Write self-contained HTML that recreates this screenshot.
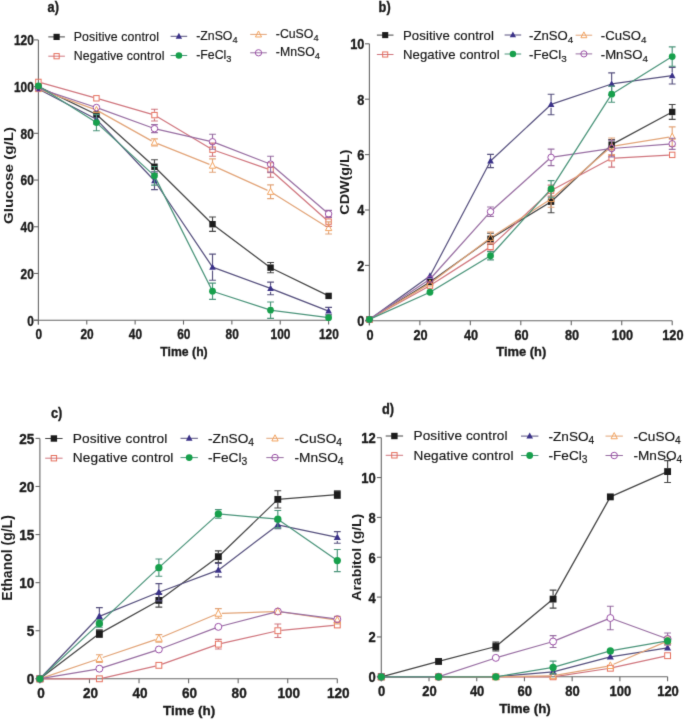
<!DOCTYPE html><html><head><meta charset="utf-8"><style>html,body{margin:0;padding:0;background:#fff;}svg{display:block;will-change:transform;}text{font-family:"Liberation Sans",sans-serif;}</style></head><body>
<svg width="685" height="720" viewBox="0 0 685 720">
<defs><filter id="bl" x="0" y="0" width="685" height="720" filterUnits="userSpaceOnUse" color-interpolation-filters="sRGB"><feConvolveMatrix order="3" kernelMatrix="0.01134 0.08382 0.01134 0.08382 0.61935 0.08382 0.01134 0.08382 0.01134" divisor="1" edgeMode="duplicate" preserveAlpha="true"/></filter></defs>
<g filter="url(#bl)">
<rect width="685" height="720" fill="#fff"/>
<g stroke="#666666" stroke-width="1.1" fill="none">
<path d="M38.4 324.6V39.9"/>
<path d="M34 320.2H328.6"/>
<path d="M34 320.2H38.4"/>
<path d="M34 273.48H38.4"/>
<path d="M34 226.77H38.4"/>
<path d="M34 180.05H38.4"/>
<path d="M34 133.33H38.4"/>
<path d="M34 86.62H38.4"/>
<path d="M34 39.9H38.4"/>
<path d="M38.4 320.2V324.6"/>
<path d="M86.77 320.2V324.6"/>
<path d="M135.13 320.2V324.6"/>
<path d="M183.5 320.2V324.6"/>
<path d="M231.87 320.2V324.6"/>
<path d="M280.23 320.2V324.6"/>
<path d="M328.6 320.2V324.6"/>
</g>
<text transform="translate(33.8,325.6) scale(0.85,1)" font-size="14" font-weight="bold" text-anchor="end" fill="#1a1a1a" stroke="#1a1a1a" stroke-width="0.35">0</text>
<text transform="translate(33.8,278.88) scale(0.85,1)" font-size="14" font-weight="bold" text-anchor="end" fill="#1a1a1a" stroke="#1a1a1a" stroke-width="0.35">20</text>
<text transform="translate(33.8,232.17) scale(0.85,1)" font-size="14" font-weight="bold" text-anchor="end" fill="#1a1a1a" stroke="#1a1a1a" stroke-width="0.35">40</text>
<text transform="translate(33.8,185.45) scale(0.85,1)" font-size="14" font-weight="bold" text-anchor="end" fill="#1a1a1a" stroke="#1a1a1a" stroke-width="0.35">60</text>
<text transform="translate(33.8,138.73) scale(0.85,1)" font-size="14" font-weight="bold" text-anchor="end" fill="#1a1a1a" stroke="#1a1a1a" stroke-width="0.35">80</text>
<text transform="translate(33.8,92.02) scale(0.85,1)" font-size="14" font-weight="bold" text-anchor="end" fill="#1a1a1a" stroke="#1a1a1a" stroke-width="0.35">100</text>
<text transform="translate(33.8,45.3) scale(0.85,1)" font-size="14" font-weight="bold" text-anchor="end" fill="#1a1a1a" stroke="#1a1a1a" stroke-width="0.35">120</text>
<text transform="translate(38.7,339.1) scale(0.85,1)" font-size="14" font-weight="bold" text-anchor="middle" fill="#1a1a1a" stroke="#1a1a1a" stroke-width="0.35">0</text>
<text transform="translate(87.07,339.1) scale(0.85,1)" font-size="14" font-weight="bold" text-anchor="middle" fill="#1a1a1a" stroke="#1a1a1a" stroke-width="0.35">20</text>
<text transform="translate(135.43,339.1) scale(0.85,1)" font-size="14" font-weight="bold" text-anchor="middle" fill="#1a1a1a" stroke="#1a1a1a" stroke-width="0.35">40</text>
<text transform="translate(183.8,339.1) scale(0.85,1)" font-size="14" font-weight="bold" text-anchor="middle" fill="#1a1a1a" stroke="#1a1a1a" stroke-width="0.35">60</text>
<text transform="translate(232.17,339.1) scale(0.85,1)" font-size="14" font-weight="bold" text-anchor="middle" fill="#1a1a1a" stroke="#1a1a1a" stroke-width="0.35">80</text>
<text transform="translate(280.53,339.1) scale(0.85,1)" font-size="14" font-weight="bold" text-anchor="middle" fill="#1a1a1a" stroke="#1a1a1a" stroke-width="0.35">100</text>
<text transform="translate(328.9,339.1) scale(0.85,1)" font-size="14" font-weight="bold" text-anchor="middle" fill="#1a1a1a" stroke="#1a1a1a" stroke-width="0.35">120</text>
<text transform="translate(184,356.4) scale(0.9,1)" font-size="13.6" font-weight="bold" text-anchor="middle" fill="#1a1a1a" stroke="#1a1a1a" stroke-width="0.35">Time (h)</text>
<text transform="translate(12.8,175.5) scale(0.89,1) rotate(-90)" font-size="15.2" font-weight="bold" text-anchor="middle" fill="#1a1a1a">Glucose (g/L)</text>
<text transform="translate(47.6,12.3) scale(0.9,1)" font-size="14.2" font-weight="bold" text-anchor="start" fill="#1a1a1a" stroke="#1a1a1a" stroke-width="0.35">a)</text>
<path d="M48.3 36.9H64.9" stroke="#444444" stroke-width="1"/>
<rect x="53.5" y="33.8" width="6.21" height="6.21" fill="#1c1c1c"/>
<text transform="translate(73.8,40.6) scale(1,1)" font-size="12.3" font-weight="normal" text-anchor="start" fill="#151515" letter-spacing="0.12" stroke="#151515" stroke-width="0.17">Positive control</text>
<path d="M48.3 56.2H64.9" stroke="#d0767e" stroke-width="1"/>
<rect x="54" y="53.6" width="5.21" height="5.21" fill="none" stroke="#e5705e" stroke-width="1"/>
<text transform="translate(73.8,59.7) scale(1,1)" font-size="12.3" font-weight="normal" text-anchor="start" fill="#151515" letter-spacing="0.12" stroke="#151515" stroke-width="0.17">Negative control</text>
<path d="M170.6 36.3H187.2" stroke="#56507e" stroke-width="1"/>
<polygon points="178.9,32.69 175.7,38.71 182.1,38.71" fill="#3a3188"/>
<text transform="translate(196.2,39.5) scale(1,1)" font-size="12.3" font-weight="normal" text-anchor="start" fill="#151515" stroke="#151515" stroke-width="0.17">-ZnSO<tspan font-size="9.23" dy="3.08">4</tspan></text>
<path d="M170.6 55.5H187.2" stroke="#4a947a" stroke-width="1"/>
<circle cx="178.9" cy="55.5" r="3.3" fill="#17a04c"/>
<text transform="translate(196.2,58.5) scale(1,1)" font-size="12.3" font-weight="normal" text-anchor="start" fill="#151515" stroke="#151515" stroke-width="0.17">-FeCl<tspan font-size="9.23" dy="3.08">3</tspan></text>
<path d="M250.2 34.4H266.8" stroke="#e2a478" stroke-width="1"/>
<polygon points="258.5,30.98 255.44,36.98 261.56,36.98" fill="none" stroke="#f2a25e" stroke-width="1"/>
<text transform="translate(275.8,37.9) scale(1,1)" font-size="12.3" font-weight="normal" text-anchor="start" fill="#151515" stroke="#151515" stroke-width="0.17">-CuSO<tspan font-size="9.23" dy="3.08">4</tspan></text>
<path d="M250.2 52.8H266.8" stroke="#986ea2" stroke-width="1"/>
<circle cx="258.5" cy="52.8" r="3.15" fill="none" stroke="#9a4fa6" stroke-width="1"/>
<text transform="translate(275.8,55.8) scale(1,1)" font-size="12.3" font-weight="normal" text-anchor="start" fill="#151515" stroke="#151515" stroke-width="0.17">-MnSO<tspan font-size="9.23" dy="3.08">4</tspan></text>
<path d="M38.4 86.62L96.44 114.53M96.44 114.53L154.48 166.74M154.48 166.74L212.52 224.2M212.52 224.2L270.56 267.64M270.56 267.64L328.6 295.91" stroke="#444444" stroke-width="1.25" fill="none"/><rect x="35.2" y="83.42" width="6.4" height="6.4" fill="#1c1c1c"/><rect x="93.24" y="111.33" width="6.4" height="6.4" fill="#1c1c1c"/><path d="M154.48 159.73V163.44M154.48 170.04V173.74M151.08 159.73H157.88M151.08 173.74H157.88" stroke="#444444" stroke-width="1.15" fill="none"/><rect x="151.28" y="163.54" width="6.4" height="6.4" fill="#1c1c1c"/><path d="M212.52 216.96V220.9M212.52 227.5V231.44M209.12 216.96H215.92M209.12 231.44H215.92" stroke="#444444" stroke-width="1.15" fill="none"/><rect x="209.32" y="221" width="6.4" height="6.4" fill="#1c1c1c"/><path d="M270.56 262.5V264.34M270.56 270.94V272.78M267.16 262.5H273.96M267.16 272.78H273.96" stroke="#444444" stroke-width="1.15" fill="none"/><rect x="267.36" y="264.44" width="6.4" height="6.4" fill="#1c1c1c"/><rect x="325.4" y="292.71" width="6.4" height="6.4" fill="#1c1c1c"/>
<path d="M41.58 82.84L93.26 97.4M99.61 99.21L151.31 114.2M157.32 116.8L209.68 148M215.63 150.77L267.45 168.92M273.03 172.2L326.13 219.43" stroke="#d0767e" stroke-width="1.25" fill="none"/><rect x="35.7" y="79.24" width="5.4" height="5.4" fill="none" stroke="#e5705e" stroke-width="1"/><rect x="93.74" y="95.6" width="5.4" height="5.4" fill="none" stroke="#e5705e" stroke-width="1"/><path d="M154.48 109.27V111.81M154.48 118.41V120.95M151.08 109.27H157.88M151.08 120.95H157.88" stroke="#d0767e" stroke-width="1.15" fill="none"/><rect x="151.78" y="112.41" width="5.4" height="5.4" fill="none" stroke="#e5705e" stroke-width="1"/><path d="M212.52 143.14V146.38M212.52 152.98V156.22M209.12 143.14H215.92M209.12 156.22H215.92" stroke="#d0767e" stroke-width="1.15" fill="none"/><rect x="209.82" y="146.98" width="5.4" height="5.4" fill="none" stroke="#e5705e" stroke-width="1"/><path d="M270.56 162.76V166.71M270.56 173.31V177.25M267.16 162.76H273.96M267.16 177.25H273.96" stroke="#d0767e" stroke-width="1.15" fill="none"/><rect x="267.86" y="167.31" width="5.4" height="5.4" fill="none" stroke="#e5705e" stroke-width="1"/><path d="M328.6 216.96V218.33M328.6 224.93V226.3M325.2 216.96H332M325.2 226.3H332" stroke="#d0767e" stroke-width="1.15" fill="none"/><rect x="325.9" y="218.93" width="5.4" height="5.4" fill="none" stroke="#e5705e" stroke-width="1"/>
<path d="M38.4 88.95L96.44 119.32M96.44 119.32L154.48 180.75M154.48 180.75L212.52 267.18M212.52 267.18L270.56 288.43M270.56 288.43L328.6 311.09" stroke="#56507e" stroke-width="1.25" fill="none"/><polygon points="38.4,85.23 35.1,91.43 41.7,91.43" fill="#3a3188"/><path d="M96.44 114.65V116.02M96.44 122.62V123.99M93.04 114.65H99.84M93.04 123.99H99.84" stroke="#56507e" stroke-width="1.15" fill="none"/><polygon points="96.44,115.6 93.14,121.8 99.74,121.8" fill="#3a3188"/><path d="M154.48 171.87V177.45M154.48 184.05V189.63M151.08 171.87H157.88M151.08 189.63H157.88" stroke="#56507e" stroke-width="1.15" fill="none"/><polygon points="154.48,177.03 151.18,183.23 157.78,183.23" fill="#3a3188"/><path d="M212.52 254.1V263.88M212.52 270.48V280.26M209.12 254.1H215.92M209.12 280.26H215.92" stroke="#56507e" stroke-width="1.15" fill="none"/><polygon points="212.52,263.46 209.22,269.66 215.82,269.66" fill="#3a3188"/><path d="M270.56 282.13V285.13M270.56 291.73V294.74M267.16 282.13H273.96M267.16 294.74H273.96" stroke="#56507e" stroke-width="1.15" fill="none"/><polygon points="270.56,284.71 267.26,290.91 273.86,290.91" fill="#3a3188"/><path d="M328.6 307.35V307.79M328.6 314.39V314.83M325.2 307.35H332M325.2 314.83H332" stroke="#56507e" stroke-width="1.15" fill="none"/><polygon points="328.6,307.37 325.3,313.57 331.9,313.57" fill="#3a3188"/>
<path d="M41.5 90.08L93.34 108.85M99.32 111.59L151.6 140.83M157.55 143.66L209.45 164.35M215.53 166.92L267.55 190.37M273.36 193.48L325.8 226.19" stroke="#e2a478" stroke-width="1.25" fill="none"/><polygon points="38.4,85.42 35.23,91.62 41.56,91.62" fill="none" stroke="#f2a25e" stroke-width="1"/><polygon points="96.44,106.44 93.28,112.64 99.61,112.64" fill="none" stroke="#f2a25e" stroke-width="1"/><path d="M154.48 138.94V139.14M154.48 145.74V145.95M151.08 138.94H157.88M151.08 145.95H157.88" stroke="#e2a478" stroke-width="1.15" fill="none"/><polygon points="154.48,138.91 151.32,145.11 157.65,145.11" fill="none" stroke="#f2a25e" stroke-width="1"/><path d="M212.52 158.91V162.27M212.52 168.87V172.22M209.12 158.91H215.92M209.12 172.22H215.92" stroke="#e2a478" stroke-width="1.15" fill="none"/><polygon points="212.52,162.04 209.36,168.23 215.69,168.23" fill="none" stroke="#f2a25e" stroke-width="1"/><path d="M270.56 184.84V188.43M270.56 195.03V198.62M267.16 184.84H273.96M267.16 198.62H273.96" stroke="#e2a478" stroke-width="1.15" fill="none"/><polygon points="270.56,188.2 267.4,194.39 273.73,194.39" fill="none" stroke="#f2a25e" stroke-width="1"/><path d="M328.6 221.86V224.63M328.6 231.23V234.01M325.2 221.86H332M325.2 234.01H332" stroke="#e2a478" stroke-width="1.15" fill="none"/><polygon points="328.6,224.4 325.44,230.6 331.77,230.6" fill="none" stroke="#f2a25e" stroke-width="1"/>
<path d="M41.53 89.29L93.31 106.48M99.54 108.65L151.38 127.53M157.7 129.39L209.3 141.02M215.6 142.93L267.48 162.98M273.07 166.31L326.09 211.77" stroke="#986ea2" stroke-width="1.25" fill="none"/><circle cx="38.4" cy="88.25" r="3.25" fill="none" stroke="#9a4fa6" stroke-width="1"/><circle cx="96.44" cy="107.52" r="3.25" fill="none" stroke="#9a4fa6" stroke-width="1"/><path d="M154.48 124.69V125.36M154.48 131.96V132.63M151.08 124.69H157.88M151.08 132.63H157.88" stroke="#986ea2" stroke-width="1.15" fill="none"/><circle cx="154.48" cy="128.66" r="3.25" fill="none" stroke="#9a4fa6" stroke-width="1"/><path d="M212.52 134.27V138.44M212.52 145.04V149.22M209.12 134.27H215.92M209.12 149.22H215.92" stroke="#986ea2" stroke-width="1.15" fill="none"/><circle cx="212.52" cy="141.74" r="3.25" fill="none" stroke="#9a4fa6" stroke-width="1"/><path d="M270.56 156.22V160.87M270.56 167.47V172.11M267.16 156.22H273.96M267.16 172.11H273.96" stroke="#986ea2" stroke-width="1.15" fill="none"/><circle cx="270.56" cy="164.17" r="3.25" fill="none" stroke="#9a4fa6" stroke-width="1"/><path d="M328.6 210.42V210.62M328.6 217.22V217.42M325.2 210.42H332M325.2 217.42H332" stroke="#986ea2" stroke-width="1.15" fill="none"/><circle cx="328.6" cy="213.92" r="3.25" fill="none" stroke="#9a4fa6" stroke-width="1"/>
<path d="M38.4 85.92L96.44 122.59M96.44 122.59L154.48 175.85M154.48 175.85L212.52 291.24M212.52 291.24L270.56 310.16M270.56 310.16L328.6 317.63" stroke="#4a947a" stroke-width="1.25" fill="none"/><circle cx="38.4" cy="85.92" r="3.4" fill="#17a04c"/><path d="M96.44 114.41V119.29M96.44 125.89V130.76M93.04 114.41H99.84M93.04 130.76H99.84" stroke="#4a947a" stroke-width="1.15" fill="none"/><circle cx="96.44" cy="122.59" r="3.4" fill="#17a04c"/><path d="M154.48 166.5V172.55M154.48 179.15V185.19M151.08 166.5H157.88M151.08 185.19H157.88" stroke="#4a947a" stroke-width="1.15" fill="none"/><circle cx="154.48" cy="175.85" r="3.4" fill="#17a04c"/><path d="M212.52 283.06V287.94M212.52 294.54V299.41M209.12 283.06H215.92M209.12 299.41H215.92" stroke="#4a947a" stroke-width="1.15" fill="none"/><circle cx="212.52" cy="291.24" r="3.4" fill="#17a04c"/><path d="M270.56 301.98V306.86M270.56 313.46V318.33M267.16 301.98H273.96M267.16 318.33H273.96" stroke="#4a947a" stroke-width="1.15" fill="none"/><circle cx="270.56" cy="310.16" r="3.4" fill="#17a04c"/><circle cx="328.6" cy="317.63" r="3.4" fill="#17a04c"/>
<g stroke="#666666" stroke-width="1.1" fill="none">
<path d="M369.4 325.2V43.8"/>
<path d="M365 320.8H672.2"/>
<path d="M365 320.8H369.4"/>
<path d="M365 265.4H369.4"/>
<path d="M365 210H369.4"/>
<path d="M365 154.6H369.4"/>
<path d="M365 99.2H369.4"/>
<path d="M365 43.8H369.4"/>
<path d="M369.4 320.8V325.2"/>
<path d="M419.87 320.8V325.2"/>
<path d="M470.33 320.8V325.2"/>
<path d="M520.8 320.8V325.2"/>
<path d="M571.27 320.8V325.2"/>
<path d="M621.73 320.8V325.2"/>
<path d="M672.2 320.8V325.2"/>
</g>
<text transform="translate(364.4,326.2) scale(0.91,1)" font-size="14" font-weight="bold" text-anchor="end" fill="#1a1a1a" stroke="#1a1a1a" stroke-width="0.35">0</text>
<text transform="translate(364.4,270.8) scale(0.91,1)" font-size="14" font-weight="bold" text-anchor="end" fill="#1a1a1a" stroke="#1a1a1a" stroke-width="0.35">2</text>
<text transform="translate(364.4,215.4) scale(0.91,1)" font-size="14" font-weight="bold" text-anchor="end" fill="#1a1a1a" stroke="#1a1a1a" stroke-width="0.35">4</text>
<text transform="translate(364.4,160) scale(0.91,1)" font-size="14" font-weight="bold" text-anchor="end" fill="#1a1a1a" stroke="#1a1a1a" stroke-width="0.35">6</text>
<text transform="translate(364.4,104.6) scale(0.91,1)" font-size="14" font-weight="bold" text-anchor="end" fill="#1a1a1a" stroke="#1a1a1a" stroke-width="0.35">8</text>
<text transform="translate(364.4,49.2) scale(0.91,1)" font-size="14" font-weight="bold" text-anchor="end" fill="#1a1a1a" stroke="#1a1a1a" stroke-width="0.35">10</text>
<text transform="translate(370.1,339.7) scale(0.91,1)" font-size="14" font-weight="bold" text-anchor="middle" fill="#1a1a1a" stroke="#1a1a1a" stroke-width="0.35">0</text>
<text transform="translate(420.57,339.7) scale(0.91,1)" font-size="14" font-weight="bold" text-anchor="middle" fill="#1a1a1a" stroke="#1a1a1a" stroke-width="0.35">20</text>
<text transform="translate(471.03,339.7) scale(0.91,1)" font-size="14" font-weight="bold" text-anchor="middle" fill="#1a1a1a" stroke="#1a1a1a" stroke-width="0.35">40</text>
<text transform="translate(521.5,339.7) scale(0.91,1)" font-size="14" font-weight="bold" text-anchor="middle" fill="#1a1a1a" stroke="#1a1a1a" stroke-width="0.35">60</text>
<text transform="translate(571.97,339.7) scale(0.91,1)" font-size="14" font-weight="bold" text-anchor="middle" fill="#1a1a1a" stroke="#1a1a1a" stroke-width="0.35">80</text>
<text transform="translate(622.43,339.7) scale(0.91,1)" font-size="14" font-weight="bold" text-anchor="middle" fill="#1a1a1a" stroke="#1a1a1a" stroke-width="0.35">100</text>
<text transform="translate(672.9,339.7) scale(0.91,1)" font-size="14" font-weight="bold" text-anchor="middle" fill="#1a1a1a" stroke="#1a1a1a" stroke-width="0.35">120</text>
<text transform="translate(521.3,356.3) scale(0.95,1)" font-size="13.6" font-weight="bold" text-anchor="middle" fill="#1a1a1a" stroke="#1a1a1a" stroke-width="0.35">Time (h)</text>
<text transform="translate(349.4,182.05) scale(0.92,1) rotate(-90)" font-size="14.36" font-weight="bold" text-anchor="middle" fill="#1a1a1a">CDW(g/L)</text>
<text transform="translate(378.6,12.3) scale(0.9,1)" font-size="14.2" font-weight="bold" text-anchor="start" fill="#1a1a1a" stroke="#1a1a1a" stroke-width="0.35">b)</text>
<path d="M376.9 35.1H393.5" stroke="#444444" stroke-width="1"/>
<rect x="382.16" y="32.06" width="6.08" height="6.08" fill="#1c1c1c"/>
<text transform="translate(402.9,39.7) scale(1,1)" font-size="13.15" font-weight="normal" text-anchor="start" fill="#151515" letter-spacing="0.12" stroke="#151515" stroke-width="0.17">Positive control</text>
<path d="M376.9 54.5H393.5" stroke="#d0767e" stroke-width="1"/>
<rect x="382.66" y="51.96" width="5.08" height="5.08" fill="none" stroke="#e5705e" stroke-width="1"/>
<text transform="translate(402.9,59.2) scale(1,1)" font-size="13.15" font-weight="normal" text-anchor="start" fill="#151515" letter-spacing="0.12" stroke="#151515" stroke-width="0.17">Negative control</text>
<path d="M504.6 35H521.2" stroke="#56507e" stroke-width="1"/>
<polygon points="512.9,31.47 509.76,37.36 516.03,37.36" fill="#3a3188"/>
<text transform="translate(529.1,39.5) scale(1,1)" font-size="13.15" font-weight="normal" text-anchor="start" fill="#151515" stroke="#151515" stroke-width="0.17">-ZnSO<tspan font-size="9.86" dy="3.29">4</tspan></text>
<path d="M504.6 54H521.2" stroke="#4a947a" stroke-width="1"/>
<circle cx="512.9" cy="54" r="3.23" fill="#17a04c"/>
<text transform="translate(529.1,58.7) scale(1,1)" font-size="13.15" font-weight="normal" text-anchor="start" fill="#151515" stroke="#151515" stroke-width="0.17">-FeCl<tspan font-size="9.86" dy="3.29">3</tspan></text>
<path d="M575.6 35.2H592.2" stroke="#e2a478" stroke-width="1"/>
<polygon points="583.9,31.86 580.91,37.72 586.89,37.72" fill="none" stroke="#f2a25e" stroke-width="1"/>
<text transform="translate(600.8,39.7) scale(1,1)" font-size="13.15" font-weight="normal" text-anchor="start" fill="#151515" stroke="#151515" stroke-width="0.17">-CuSO<tspan font-size="9.86" dy="3.29">4</tspan></text>
<path d="M575.6 53.9H592.2" stroke="#986ea2" stroke-width="1"/>
<circle cx="583.9" cy="53.9" r="3.09" fill="none" stroke="#9a4fa6" stroke-width="1"/>
<text transform="translate(600.8,58.6) scale(1,1)" font-size="13.15" font-weight="normal" text-anchor="start" fill="#151515" stroke="#151515" stroke-width="0.17">-MnSO<tspan font-size="9.86" dy="3.29">4</tspan></text>
<path d="M369.4 319.42L429.96 282.02M429.96 282.02L490.52 238.81M490.52 238.81L551.08 201.69M551.08 201.69L611.64 144.63M611.64 144.63L672.2 111.94" stroke="#444444" stroke-width="1.25" fill="none"/><rect x="366.2" y="316.22" width="6.4" height="6.4" fill="#1c1c1c"/><rect x="426.76" y="278.82" width="6.4" height="6.4" fill="#1c1c1c"/><path d="M490.52 233.27V235.51M490.52 242.11V244.35M487.12 233.27H493.92M487.12 244.35H493.92" stroke="#444444" stroke-width="1.15" fill="none"/><rect x="487.32" y="235.61" width="6.4" height="6.4" fill="#1c1c1c"/><path d="M551.08 190.61V198.39M551.08 204.99V212.77M547.68 190.61H554.48M547.68 212.77H554.48" stroke="#444444" stroke-width="1.15" fill="none"/><rect x="547.88" y="198.49" width="6.4" height="6.4" fill="#1c1c1c"/><path d="M611.64 139.64V141.33M611.64 147.93V149.61M608.24 139.64H615.04M608.24 149.61H615.04" stroke="#444444" stroke-width="1.15" fill="none"/><rect x="608.44" y="141.43" width="6.4" height="6.4" fill="#1c1c1c"/><path d="M672.2 104.46V108.64M672.2 115.24V119.42M668.8 104.46H675.6M668.8 119.42H675.6" stroke="#444444" stroke-width="1.15" fill="none"/><rect x="669" y="108.74" width="6.4" height="6.4" fill="#1c1c1c"/>
<path d="M372.28 317.81L427.08 287.23M432.74 283.84L487.74 248.62M492.94 244.6L548.66 192.86M553.99 189.05L608.73 159.76M614.94 158.02L668.9 155.06" stroke="#d0767e" stroke-width="1.25" fill="none"/><rect x="366.7" y="316.72" width="5.4" height="5.4" fill="none" stroke="#e5705e" stroke-width="1"/><rect x="427.26" y="282.92" width="5.4" height="5.4" fill="none" stroke="#e5705e" stroke-width="1"/><path d="M490.52 242.69V243.54M490.52 250.14V251M487.12 242.69H493.92M487.12 251H493.92" stroke="#d0767e" stroke-width="1.15" fill="none"/><rect x="487.82" y="244.14" width="5.4" height="5.4" fill="none" stroke="#e5705e" stroke-width="1"/><path d="M551.08 185.07V187.31M551.08 193.91V196.15M547.68 185.07H554.48M547.68 196.15H554.48" stroke="#d0767e" stroke-width="1.15" fill="none"/><rect x="548.38" y="187.91" width="5.4" height="5.4" fill="none" stroke="#e5705e" stroke-width="1"/><path d="M611.64 149.34V154.9M611.64 161.5V167.07M608.24 149.34H615.04M608.24 167.07H615.04" stroke="#d0767e" stroke-width="1.15" fill="none"/><rect x="608.94" y="155.5" width="5.4" height="5.4" fill="none" stroke="#e5705e" stroke-width="1"/><rect x="669.5" y="152.18" width="5.4" height="5.4" fill="none" stroke="#e5705e" stroke-width="1"/>
<path d="M369.4 319.42L429.96 275.93M429.96 275.93L490.52 160.97M490.52 160.97L551.08 104.46M551.08 104.46L611.64 83.97M611.64 83.97L672.2 75.66" stroke="#56507e" stroke-width="1.25" fill="none"/><polygon points="369.4,315.69 366.1,321.9 372.7,321.9" fill="#3a3188"/><polygon points="429.96,272.21 426.66,278.41 433.26,278.41" fill="#3a3188"/><path d="M490.52 154.32V157.67M490.52 164.27V167.62M487.12 154.32H493.92M487.12 167.62H493.92" stroke="#56507e" stroke-width="1.15" fill="none"/><polygon points="490.52,157.25 487.22,163.45 493.82,163.45" fill="#3a3188"/><path d="M551.08 94.21V101.16M551.08 107.76V114.71M547.68 94.21H554.48M547.68 114.71H554.48" stroke="#56507e" stroke-width="1.15" fill="none"/><polygon points="551.08,100.74 547.78,106.94 554.38,106.94" fill="#3a3188"/><path d="M611.64 72.88V80.67M611.64 87.27V95.05M608.24 72.88H615.04M608.24 95.05H615.04" stroke="#56507e" stroke-width="1.15" fill="none"/><polygon points="611.64,80.25 608.34,86.45 614.94,86.45" fill="#3a3188"/><path d="M672.2 67.34V72.36M672.2 78.96V83.97M668.8 67.34H675.6M668.8 83.97H675.6" stroke="#56507e" stroke-width="1.15" fill="none"/><polygon points="672.2,71.94 668.9,78.14 675.5,78.14" fill="#3a3188"/>
<path d="M372.24 317.73L427.12 285.09M432.59 281.42L487.89 239.69M493.3 235.92L548.3 200.7M553.57 196.76L609.15 148.45M614.9 145.77L668.94 137.12" stroke="#e2a478" stroke-width="1.25" fill="none"/><polygon points="369.4,315.88 366.23,322.08 372.56,322.08" fill="none" stroke="#f2a25e" stroke-width="1"/><polygon points="429.96,279.87 426.79,286.07 433.12,286.07" fill="none" stroke="#f2a25e" stroke-width="1"/><path d="M490.52 232.16V234.4M490.52 241V243.24M487.12 232.16H493.92M487.12 243.24H493.92" stroke="#e2a478" stroke-width="1.15" fill="none"/><polygon points="490.52,234.17 487.35,240.36 493.69,240.36" fill="none" stroke="#f2a25e" stroke-width="1"/><path d="M551.08 190.61V195.62M551.08 202.22V207.23M547.68 190.61H554.48M547.68 207.23H554.48" stroke="#e2a478" stroke-width="1.15" fill="none"/><polygon points="551.08,195.39 547.92,201.58 554.25,201.58" fill="none" stroke="#f2a25e" stroke-width="1"/><path d="M611.64 137.98V142.99M611.64 149.59V154.6M608.24 137.98H615.04M608.24 154.6H615.04" stroke="#e2a478" stroke-width="1.15" fill="none"/><polygon points="611.64,142.76 608.48,148.95 614.81,148.95" fill="none" stroke="#f2a25e" stroke-width="1"/><path d="M672.2 126.9V133.29M672.2 139.9V146.29M668.8 126.9H675.6M668.8 146.29H675.6" stroke="#e2a478" stroke-width="1.15" fill="none"/><polygon points="672.2,133.06 669.04,139.26 675.37,139.26" fill="none" stroke="#f2a25e" stroke-width="1"/>
<path d="M372.15 317.59L427.21 281.07M432.16 276.79L488.32 214.12M492.98 209.46L548.62 159.57M554.35 156.89L608.37 148.98M614.93 148.25L668.91 144.05" stroke="#986ea2" stroke-width="1.25" fill="none"/><circle cx="369.4" cy="319.42" r="3.25" fill="none" stroke="#9a4fa6" stroke-width="1"/><circle cx="429.96" cy="279.25" r="3.25" fill="none" stroke="#9a4fa6" stroke-width="1"/><path d="M490.52 206.95V208.36M490.52 214.96V216.37M487.12 206.95H493.92M487.12 216.37H493.92" stroke="#986ea2" stroke-width="1.15" fill="none"/><circle cx="490.52" cy="211.66" r="3.25" fill="none" stroke="#9a4fa6" stroke-width="1"/><path d="M551.08 149.06V154.07M551.08 160.67V165.68M547.68 149.06H554.48M547.68 165.68H554.48" stroke="#986ea2" stroke-width="1.15" fill="none"/><circle cx="551.08" cy="157.37" r="3.25" fill="none" stroke="#9a4fa6" stroke-width="1"/><path d="M611.64 140.2V145.21M611.64 151.81V156.82M608.24 140.2H615.04M608.24 156.82H615.04" stroke="#986ea2" stroke-width="1.15" fill="none"/><circle cx="611.64" cy="148.51" r="3.25" fill="none" stroke="#9a4fa6" stroke-width="1"/><path d="M672.2 138.26V140.5M672.2 147.1V149.34M668.8 138.26H675.6M668.8 149.34H675.6" stroke="#986ea2" stroke-width="1.15" fill="none"/><circle cx="672.2" cy="143.8" r="3.25" fill="none" stroke="#9a4fa6" stroke-width="1"/>
<path d="M369.4 319.42L429.96 292.27M429.96 292.27L490.52 255.71M490.52 255.71L551.08 188.95M551.08 188.95L611.64 94.21M611.64 94.21L672.2 56.54" stroke="#4a947a" stroke-width="1.25" fill="none"/><circle cx="369.4" cy="319.42" r="3.4" fill="#17a04c"/><circle cx="429.96" cy="292.27" r="3.4" fill="#17a04c"/><path d="M490.52 251.55V252.41M490.52 259V259.86M487.12 251.55H493.92M487.12 259.86H493.92" stroke="#4a947a" stroke-width="1.15" fill="none"/><circle cx="490.52" cy="255.71" r="3.4" fill="#17a04c"/><path d="M551.08 180.64V185.65M551.08 192.25V197.26M547.68 180.64H554.48M547.68 197.26H554.48" stroke="#4a947a" stroke-width="1.15" fill="none"/><circle cx="551.08" cy="188.95" r="3.4" fill="#17a04c"/><path d="M611.64 86.18V90.91M611.64 97.51V102.25M608.24 86.18H615.04M608.24 102.25H615.04" stroke="#4a947a" stroke-width="1.15" fill="none"/><circle cx="611.64" cy="94.21" r="3.4" fill="#17a04c"/><path d="M672.2 46.85V53.24M672.2 59.84V66.24M668.8 46.85H675.6M668.8 66.24H675.6" stroke="#4a947a" stroke-width="1.15" fill="none"/><circle cx="672.2" cy="56.54" r="3.4" fill="#17a04c"/>
<g stroke="#666666" stroke-width="1.1" fill="none">
<path d="M39.9 683.2V438.4"/>
<path d="M35.5 678.8H337.3"/>
<path d="M35.5 678.8H39.9"/>
<path d="M35.5 630.72H39.9"/>
<path d="M35.5 582.64H39.9"/>
<path d="M35.5 534.56H39.9"/>
<path d="M35.5 486.48H39.9"/>
<path d="M35.5 438.4H39.9"/>
<path d="M39.9 678.8V683.2"/>
<path d="M89.47 678.8V683.2"/>
<path d="M139.03 678.8V683.2"/>
<path d="M188.6 678.8V683.2"/>
<path d="M238.17 678.8V683.2"/>
<path d="M287.73 678.8V683.2"/>
<path d="M337.3 678.8V683.2"/>
</g>
<text transform="translate(34.3,684.2) scale(0.97,1)" font-size="14" font-weight="bold" text-anchor="end" fill="#1a1a1a" stroke="#1a1a1a" stroke-width="0.35">0</text>
<text transform="translate(34.3,636.12) scale(0.97,1)" font-size="14" font-weight="bold" text-anchor="end" fill="#1a1a1a" stroke="#1a1a1a" stroke-width="0.35">5</text>
<text transform="translate(34.3,588.04) scale(0.97,1)" font-size="14" font-weight="bold" text-anchor="end" fill="#1a1a1a" stroke="#1a1a1a" stroke-width="0.35">10</text>
<text transform="translate(34.3,539.96) scale(0.97,1)" font-size="14" font-weight="bold" text-anchor="end" fill="#1a1a1a" stroke="#1a1a1a" stroke-width="0.35">15</text>
<text transform="translate(34.3,491.88) scale(0.97,1)" font-size="14" font-weight="bold" text-anchor="end" fill="#1a1a1a" stroke="#1a1a1a" stroke-width="0.35">20</text>
<text transform="translate(34.3,443.8) scale(0.97,1)" font-size="14" font-weight="bold" text-anchor="end" fill="#1a1a1a" stroke="#1a1a1a" stroke-width="0.35">25</text>
<text transform="translate(40.9,697.7) scale(0.97,1)" font-size="14" font-weight="bold" text-anchor="middle" fill="#1a1a1a" stroke="#1a1a1a" stroke-width="0.35">0</text>
<text transform="translate(90.47,697.7) scale(0.97,1)" font-size="14" font-weight="bold" text-anchor="middle" fill="#1a1a1a" stroke="#1a1a1a" stroke-width="0.35">20</text>
<text transform="translate(140.03,697.7) scale(0.97,1)" font-size="14" font-weight="bold" text-anchor="middle" fill="#1a1a1a" stroke="#1a1a1a" stroke-width="0.35">40</text>
<text transform="translate(189.6,697.7) scale(0.97,1)" font-size="14" font-weight="bold" text-anchor="middle" fill="#1a1a1a" stroke="#1a1a1a" stroke-width="0.35">60</text>
<text transform="translate(239.17,697.7) scale(0.97,1)" font-size="14" font-weight="bold" text-anchor="middle" fill="#1a1a1a" stroke="#1a1a1a" stroke-width="0.35">80</text>
<text transform="translate(288.73,697.7) scale(0.97,1)" font-size="14" font-weight="bold" text-anchor="middle" fill="#1a1a1a" stroke="#1a1a1a" stroke-width="0.35">100</text>
<text transform="translate(338.3,697.7) scale(0.97,1)" font-size="14" font-weight="bold" text-anchor="middle" fill="#1a1a1a" stroke="#1a1a1a" stroke-width="0.35">120</text>
<text transform="translate(189.1,715.3) scale(0.99,1)" font-size="13.6" font-weight="bold" text-anchor="middle" fill="#1a1a1a" stroke="#1a1a1a" stroke-width="0.35">Time (h)</text>
<text transform="translate(12.1,557.95) scale(0.99,1) rotate(-90)" font-size="14" font-weight="bold" text-anchor="middle" fill="#1a1a1a">Ethanol (g/L)</text>
<text transform="translate(51,417.8) scale(0.9,1)" font-size="14.2" font-weight="bold" text-anchor="start" fill="#1a1a1a" stroke="#1a1a1a" stroke-width="0.35">c)</text>
<path d="M45.2 438.5H62.6" stroke="#444444" stroke-width="1"/>
<rect x="50.7" y="435.3" width="6.4" height="6.4" fill="#1c1c1c"/>
<text transform="translate(72.7,443) scale(1,1)" font-size="13.7" font-weight="normal" text-anchor="start" fill="#151515" letter-spacing="0.12" stroke="#151515" stroke-width="0.17">Positive control</text>
<path d="M45.2 458.2H62.6" stroke="#d0767e" stroke-width="1"/>
<rect x="51.2" y="455.5" width="5.4" height="5.4" fill="none" stroke="#e5705e" stroke-width="1"/>
<text transform="translate(72.7,462.4) scale(1,1)" font-size="13.7" font-weight="normal" text-anchor="start" fill="#151515" letter-spacing="0.12" stroke="#151515" stroke-width="0.17">Negative control</text>
<path d="M180.5 438.3H197.9" stroke="#56507e" stroke-width="1"/>
<polygon points="189.2,434.58 185.9,440.78 192.5,440.78" fill="#3a3188"/>
<text transform="translate(208,442.6) scale(1,1)" font-size="13.7" font-weight="normal" text-anchor="start" fill="#151515" stroke="#151515" stroke-width="0.17">-ZnSO<tspan font-size="10.27" dy="3.42">4</tspan></text>
<path d="M180.5 457.6H197.9" stroke="#4a947a" stroke-width="1"/>
<circle cx="189.2" cy="457.6" r="3.4" fill="#17a04c"/>
<text transform="translate(208,461.6) scale(1,1)" font-size="13.7" font-weight="normal" text-anchor="start" fill="#151515" stroke="#151515" stroke-width="0.17">-FeCl<tspan font-size="10.27" dy="3.42">3</tspan></text>
<path d="M266.3 438.3H283.7" stroke="#e2a478" stroke-width="1"/>
<polygon points="275,434.77 271.83,440.96 278.17,440.96" fill="none" stroke="#f2a25e" stroke-width="1"/>
<text transform="translate(294.5,442.6) scale(1,1)" font-size="13.7" font-weight="normal" text-anchor="start" fill="#151515" stroke="#151515" stroke-width="0.17">-CuSO<tspan font-size="10.27" dy="3.42">4</tspan></text>
<path d="M266.3 457.6H283.7" stroke="#986ea2" stroke-width="1"/>
<circle cx="275" cy="457.6" r="3.25" fill="none" stroke="#9a4fa6" stroke-width="1"/>
<text transform="translate(294.5,461.6) scale(1,1)" font-size="13.7" font-weight="normal" text-anchor="start" fill="#151515" stroke="#151515" stroke-width="0.17">-MnSO<tspan font-size="10.27" dy="3.42">4</tspan></text>
<path d="M39.9 678.8L99.38 633.6M99.38 633.6L158.86 600.43M158.86 600.43L218.34 556.68M218.34 556.68L277.82 499.37M277.82 499.37L337.3 494.56" stroke="#444444" stroke-width="1.25" fill="none"/><rect x="36.48" y="675.38" width="6.85" height="6.85" fill="#1c1c1c"/><path d="M99.38 629.76V630.07M99.38 637.14V637.45M95.98 629.76H102.78M95.98 637.45H102.78" stroke="#444444" stroke-width="1.15" fill="none"/><rect x="95.96" y="630.18" width="6.85" height="6.85" fill="#1c1c1c"/><path d="M158.86 593.7V596.9M158.86 603.96V607.16M155.46 593.7H162.26M155.46 607.16H162.26" stroke="#444444" stroke-width="1.15" fill="none"/><rect x="155.44" y="597.01" width="6.85" height="6.85" fill="#1c1c1c"/><path d="M218.34 550.91V553.15M218.34 560.21V562.45M214.94 550.91H221.74M214.94 562.45H221.74" stroke="#444444" stroke-width="1.15" fill="none"/><rect x="214.92" y="553.25" width="6.85" height="6.85" fill="#1c1c1c"/><path d="M277.82 490.71V495.83M277.82 502.9V508.02M274.42 490.71H281.22M274.42 508.02H281.22" stroke="#444444" stroke-width="1.15" fill="none"/><rect x="274.4" y="495.94" width="6.85" height="6.85" fill="#1c1c1c"/><path d="M337.3 490.71V491.03M337.3 498.09V498.4M333.9 490.71H340.7M333.9 498.4H340.7" stroke="#444444" stroke-width="1.15" fill="none"/><rect x="333.88" y="491.13" width="6.85" height="6.85" fill="#1c1c1c"/>
<path d="M43.43 678.8L95.85 678.8M102.82 678.02L155.42 666.12M162.19 664.15L215.01 645.37M221.78 643.4L274.38 631.5M281.33 630.38L333.79 625.29" stroke="#d0767e" stroke-width="1.25" fill="none"/><rect x="36.98" y="675.88" width="5.85" height="5.85" fill="none" stroke="#e5705e" stroke-width="1"/><rect x="96.46" y="675.88" width="5.85" height="5.85" fill="none" stroke="#e5705e" stroke-width="1"/><rect x="155.94" y="662.41" width="5.85" height="5.85" fill="none" stroke="#e5705e" stroke-width="1"/><path d="M218.34 639.37V640.65M218.34 647.71V648.99M214.94 639.37H221.74M214.94 648.99H221.74" stroke="#d0767e" stroke-width="1.15" fill="none"/><rect x="215.42" y="641.26" width="5.85" height="5.85" fill="none" stroke="#e5705e" stroke-width="1"/><path d="M277.82 623.99V627.19M277.82 634.25V637.45M274.42 623.99H281.22M274.42 637.45H281.22" stroke="#d0767e" stroke-width="1.15" fill="none"/><rect x="274.9" y="627.8" width="5.85" height="5.85" fill="none" stroke="#e5705e" stroke-width="1"/><rect x="334.38" y="622.03" width="5.85" height="5.85" fill="none" stroke="#e5705e" stroke-width="1"/>
<path d="M39.9 678.8L99.38 616.3M99.38 616.3L158.86 592.26M158.86 592.26L218.34 570.14M218.34 570.14L277.82 524.94M277.82 524.94L337.3 537.44" stroke="#56507e" stroke-width="1.25" fill="none"/><polygon points="39.9,674.82 36.37,681.45 43.43,681.45" fill="#3a3188"/><path d="M99.38 607.64V612.76M99.38 619.83V624.95M95.98 607.64H102.78M95.98 624.95H102.78" stroke="#56507e" stroke-width="1.15" fill="none"/><polygon points="99.38,612.32 95.85,618.95 102.91,618.95" fill="#3a3188"/><path d="M158.86 583.6V588.73M158.86 595.79V600.91M155.46 583.6H162.26M155.46 600.91H162.26" stroke="#56507e" stroke-width="1.15" fill="none"/><polygon points="158.86,588.28 155.33,594.91 162.39,594.91" fill="#3a3188"/><path d="M218.34 563.41V566.61M218.34 573.67V576.87M214.94 563.41H221.74M214.94 576.87H221.74" stroke="#56507e" stroke-width="1.15" fill="none"/><polygon points="218.34,566.16 214.81,572.79 221.87,572.79" fill="#3a3188"/><path d="M277.82 521.1V521.41M277.82 528.47V528.79M274.42 521.1H281.22M274.42 528.79H281.22" stroke="#56507e" stroke-width="1.15" fill="none"/><polygon points="277.82,520.96 274.29,527.6 281.35,527.6" fill="#3a3188"/><path d="M337.3 531.68V533.91M337.3 540.98V543.21M333.9 531.68H340.7M333.9 543.21H340.7" stroke="#56507e" stroke-width="1.15" fill="none"/><polygon points="337.3,533.46 333.77,540.1 340.83,540.1" fill="#3a3188"/>
<path d="M43.24 677.66L96.04 659.74M102.72 657.47L155.52 639.55M162.12 637.04L215.08 614.78M221.87 613.3L274.29 611.6M281.31 612L333.81 619.63" stroke="#e2a478" stroke-width="1.25" fill="none"/><polygon points="39.9,675 36.49,681.67 43.31,681.67" fill="none" stroke="#f2a25e" stroke-width="1"/><path d="M99.38 654.76V655.08M99.38 662.14V662.45M95.98 654.76H102.78M95.98 662.45H102.78" stroke="#e2a478" stroke-width="1.15" fill="none"/><polygon points="99.38,654.81 95.97,661.47 102.79,661.47" fill="none" stroke="#f2a25e" stroke-width="1"/><path d="M158.86 634.57V634.88M158.86 641.94V642.26M155.46 634.57H162.26M155.46 642.26H162.26" stroke="#e2a478" stroke-width="1.15" fill="none"/><polygon points="158.86,634.61 155.45,641.28 162.27,641.28" fill="none" stroke="#f2a25e" stroke-width="1"/><path d="M218.34 608.6V609.88M218.34 616.94V618.22M214.94 608.6H221.74M214.94 618.22H221.74" stroke="#e2a478" stroke-width="1.15" fill="none"/><polygon points="218.34,609.61 214.93,616.28 221.75,616.28" fill="none" stroke="#f2a25e" stroke-width="1"/><polygon points="277.82,607.69 274.41,614.35 281.23,614.35" fill="none" stroke="#f2a25e" stroke-width="1"/><path d="M337.3 616.3V616.61M337.3 623.67V623.99M333.9 616.3H340.7M333.9 623.99H340.7" stroke="#e2a478" stroke-width="1.15" fill="none"/><polygon points="337.3,616.34 333.89,623.01 340.71,623.01" fill="none" stroke="#f2a25e" stroke-width="1"/>
<path d="M43.38 678.21L95.9 669.29M102.74 667.62L155.5 650.56M162.16 648.22L215.04 628.13M221.76 625.99L274.4 612.37M281.32 611.94L333.8 618.73" stroke="#986ea2" stroke-width="1.25" fill="none"/><circle cx="39.9" cy="678.8" r="3.48" fill="none" stroke="#9a4fa6" stroke-width="1"/><circle cx="99.38" cy="668.7" r="3.48" fill="none" stroke="#9a4fa6" stroke-width="1"/><circle cx="158.86" cy="649.47" r="3.48" fill="none" stroke="#9a4fa6" stroke-width="1"/><circle cx="218.34" cy="626.87" r="3.48" fill="none" stroke="#9a4fa6" stroke-width="1"/><circle cx="277.82" cy="611.49" r="3.48" fill="none" stroke="#9a4fa6" stroke-width="1"/><circle cx="337.3" cy="619.18" r="3.48" fill="none" stroke="#9a4fa6" stroke-width="1"/>
<path d="M39.9 678.8L99.38 623.41M99.38 623.41L158.86 567.64M158.86 567.64L218.34 513.89M218.34 513.89L277.82 519.17M277.82 519.17L337.3 560.52" stroke="#4a947a" stroke-width="1.25" fill="none"/><circle cx="39.9" cy="678.8" r="3.64" fill="#17a04c"/><path d="M99.38 619.57V619.88M99.38 626.94V627.26M95.98 619.57H102.78M95.98 627.26H102.78" stroke="#4a947a" stroke-width="1.15" fill="none"/><circle cx="99.38" cy="623.41" r="3.64" fill="#17a04c"/><path d="M158.86 558.98V564.11M158.86 571.17V576.29M155.46 558.98H162.26M155.46 576.29H162.26" stroke="#4a947a" stroke-width="1.15" fill="none"/><circle cx="158.86" cy="567.64" r="3.64" fill="#17a04c"/><path d="M218.34 509.56V510.35M218.34 517.42V518.21M214.94 509.56H221.74M214.94 518.21H221.74" stroke="#4a947a" stroke-width="1.15" fill="none"/><circle cx="218.34" cy="513.89" r="3.64" fill="#17a04c"/><path d="M277.82 510.52V515.64M277.82 522.71V527.83M274.42 510.52H281.22M274.42 527.83H281.22" stroke="#4a947a" stroke-width="1.15" fill="none"/><circle cx="277.82" cy="519.17" r="3.64" fill="#17a04c"/><path d="M337.3 549.46V556.99M337.3 564.05V571.58M333.9 549.46H340.7M333.9 571.58H340.7" stroke="#4a947a" stroke-width="1.15" fill="none"/><circle cx="337.3" cy="560.52" r="3.64" fill="#17a04c"/>
<g stroke="#666666" stroke-width="1.1" fill="none">
<path d="M381.3 681.2V437.7"/>
<path d="M376.9 676.8H667.6"/>
<path d="M376.9 676.8H381.3"/>
<path d="M376.9 636.95H381.3"/>
<path d="M376.9 597.1H381.3"/>
<path d="M376.9 557.25H381.3"/>
<path d="M376.9 517.4H381.3"/>
<path d="M376.9 477.55H381.3"/>
<path d="M376.9 437.7H381.3"/>
<path d="M381.3 676.8V681.2"/>
<path d="M429.02 676.8V681.2"/>
<path d="M476.73 676.8V681.2"/>
<path d="M524.45 676.8V681.2"/>
<path d="M572.17 676.8V681.2"/>
<path d="M619.88 676.8V681.2"/>
<path d="M667.6 676.8V681.2"/>
</g>
<text transform="translate(375.7,682.2) scale(0.93,1)" font-size="14" font-weight="bold" text-anchor="end" fill="#1a1a1a" stroke="#1a1a1a" stroke-width="0.35">0</text>
<text transform="translate(375.7,642.35) scale(0.93,1)" font-size="14" font-weight="bold" text-anchor="end" fill="#1a1a1a" stroke="#1a1a1a" stroke-width="0.35">2</text>
<text transform="translate(375.7,602.5) scale(0.93,1)" font-size="14" font-weight="bold" text-anchor="end" fill="#1a1a1a" stroke="#1a1a1a" stroke-width="0.35">4</text>
<text transform="translate(375.7,562.65) scale(0.93,1)" font-size="14" font-weight="bold" text-anchor="end" fill="#1a1a1a" stroke="#1a1a1a" stroke-width="0.35">6</text>
<text transform="translate(375.7,522.8) scale(0.93,1)" font-size="14" font-weight="bold" text-anchor="end" fill="#1a1a1a" stroke="#1a1a1a" stroke-width="0.35">8</text>
<text transform="translate(375.7,482.95) scale(0.93,1)" font-size="14" font-weight="bold" text-anchor="end" fill="#1a1a1a" stroke="#1a1a1a" stroke-width="0.35">10</text>
<text transform="translate(375.7,443.1) scale(0.93,1)" font-size="14" font-weight="bold" text-anchor="end" fill="#1a1a1a" stroke="#1a1a1a" stroke-width="0.35">12</text>
<text transform="translate(381.7,695.7) scale(0.93,1)" font-size="14" font-weight="bold" text-anchor="middle" fill="#1a1a1a" stroke="#1a1a1a" stroke-width="0.35">0</text>
<text transform="translate(429.42,695.7) scale(0.93,1)" font-size="14" font-weight="bold" text-anchor="middle" fill="#1a1a1a" stroke="#1a1a1a" stroke-width="0.35">20</text>
<text transform="translate(477.13,695.7) scale(0.93,1)" font-size="14" font-weight="bold" text-anchor="middle" fill="#1a1a1a" stroke="#1a1a1a" stroke-width="0.35">40</text>
<text transform="translate(524.85,695.7) scale(0.93,1)" font-size="14" font-weight="bold" text-anchor="middle" fill="#1a1a1a" stroke="#1a1a1a" stroke-width="0.35">60</text>
<text transform="translate(572.57,695.7) scale(0.93,1)" font-size="14" font-weight="bold" text-anchor="middle" fill="#1a1a1a" stroke="#1a1a1a" stroke-width="0.35">80</text>
<text transform="translate(620.28,695.7) scale(0.93,1)" font-size="14" font-weight="bold" text-anchor="middle" fill="#1a1a1a" stroke="#1a1a1a" stroke-width="0.35">100</text>
<text transform="translate(668,695.7) scale(0.93,1)" font-size="14" font-weight="bold" text-anchor="middle" fill="#1a1a1a" stroke="#1a1a1a" stroke-width="0.35">120</text>
<text transform="translate(524.95,713.3) scale(0.98,1)" font-size="13.6" font-weight="bold" text-anchor="middle" fill="#1a1a1a" stroke="#1a1a1a" stroke-width="0.35">Time (h)</text>
<text transform="translate(360.8,557.2) scale(0.98,1) rotate(-90)" font-size="13.97" font-weight="bold" text-anchor="middle" fill="#1a1a1a">Arabitol (g/L)</text>
<text transform="translate(382,414) scale(0.9,1)" font-size="14.2" font-weight="bold" text-anchor="start" fill="#1a1a1a" stroke="#1a1a1a" stroke-width="0.35">d)</text>
<path d="M385.7 436H403.1" stroke="#444444" stroke-width="1"/>
<rect x="391.2" y="432.8" width="6.4" height="6.4" fill="#1c1c1c"/>
<text transform="translate(413.5,440.3) scale(1,1)" font-size="13.6" font-weight="normal" text-anchor="start" fill="#151515" letter-spacing="0.12" stroke="#151515" stroke-width="0.17">Positive control</text>
<path d="M385.7 455.3H403.1" stroke="#d0767e" stroke-width="1"/>
<rect x="391.7" y="452.6" width="5.4" height="5.4" fill="none" stroke="#e5705e" stroke-width="1"/>
<text transform="translate(413.5,459.8) scale(1,1)" font-size="13.6" font-weight="normal" text-anchor="start" fill="#151515" letter-spacing="0.12" stroke="#151515" stroke-width="0.17">Negative control</text>
<path d="M521 436.1H538.4" stroke="#56507e" stroke-width="1"/>
<polygon points="529.7,432.38 526.4,438.58 533,438.58" fill="#3a3188"/>
<text transform="translate(548.5,440.8) scale(1,1)" font-size="13.6" font-weight="normal" text-anchor="start" fill="#151515" stroke="#151515" stroke-width="0.17">-ZnSO<tspan font-size="10.2" dy="3.4">4</tspan></text>
<path d="M521 455.5H538.4" stroke="#4a947a" stroke-width="1"/>
<circle cx="529.7" cy="455.5" r="3.4" fill="#17a04c"/>
<text transform="translate(548.5,460) scale(1,1)" font-size="13.6" font-weight="normal" text-anchor="start" fill="#151515" stroke="#151515" stroke-width="0.17">-FeCl<tspan font-size="10.2" dy="3.4">3</tspan></text>
<path d="M605.5 436.1H622.9" stroke="#e2a478" stroke-width="1"/>
<polygon points="614.2,432.57 611.04,438.76 617.37,438.76" fill="none" stroke="#f2a25e" stroke-width="1"/>
<text transform="translate(633.5,440.8) scale(1,1)" font-size="13.6" font-weight="normal" text-anchor="start" fill="#151515" stroke="#151515" stroke-width="0.17">-CuSO<tspan font-size="10.2" dy="3.4">4</tspan></text>
<path d="M605.5 455.5H622.9" stroke="#986ea2" stroke-width="1"/>
<circle cx="614.2" cy="455.5" r="3.25" fill="none" stroke="#9a4fa6" stroke-width="1"/>
<text transform="translate(633.5,460) scale(1,1)" font-size="13.6" font-weight="normal" text-anchor="start" fill="#151515" stroke="#151515" stroke-width="0.17">-MnSO<tspan font-size="10.2" dy="3.4">4</tspan></text>
<path d="M381.3 676.8L438.56 661.46M438.56 661.46L495.82 646.51M495.82 646.51L553.08 599.09M553.08 599.09L610.34 496.88M610.34 496.88L667.6 471.57" stroke="#444444" stroke-width="1.25" fill="none"/><rect x="377.88" y="673.38" width="6.85" height="6.85" fill="#1c1c1c"/><rect x="435.14" y="658.03" width="6.85" height="6.85" fill="#1c1c1c"/><path d="M495.82 642.13V642.98M495.82 650.04V650.9M492.42 642.13H499.22M492.42 650.9H499.22" stroke="#444444" stroke-width="1.15" fill="none"/><rect x="492.4" y="643.09" width="6.85" height="6.85" fill="#1c1c1c"/><path d="M553.08 590.13V595.56M553.08 602.62V608.06M549.68 590.13H556.48M549.68 608.06H556.48" stroke="#444444" stroke-width="1.15" fill="none"/><rect x="549.66" y="595.67" width="6.85" height="6.85" fill="#1c1c1c"/><rect x="606.92" y="493.45" width="6.85" height="6.85" fill="#1c1c1c"/><path d="M667.6 460.61V468.04M667.6 475.1V482.53M664.2 460.61H671M664.2 482.53H671" stroke="#444444" stroke-width="1.15" fill="none"/><rect x="664.18" y="468.15" width="6.85" height="6.85" fill="#1c1c1c"/>
<path d="M384.83 676.8L435.03 676.8M442.09 676.8L492.29 676.8M499.35 676.8L549.55 676.8M556.57 676.28L606.85 668.75M613.79 667.48L664.15 656.44" stroke="#d0767e" stroke-width="1.25" fill="none"/><rect x="378.38" y="673.88" width="5.85" height="5.85" fill="none" stroke="#e5705e" stroke-width="1"/><rect x="435.64" y="673.88" width="5.85" height="5.85" fill="none" stroke="#e5705e" stroke-width="1"/><rect x="492.9" y="673.88" width="5.85" height="5.85" fill="none" stroke="#e5705e" stroke-width="1"/><rect x="550.16" y="673.88" width="5.85" height="5.85" fill="none" stroke="#e5705e" stroke-width="1"/><rect x="607.42" y="665.31" width="5.85" height="5.85" fill="none" stroke="#e5705e" stroke-width="1"/><rect x="664.68" y="652.76" width="5.85" height="5.85" fill="none" stroke="#e5705e" stroke-width="1"/>
<path d="M381.3 676.8L438.56 676.8M438.56 676.8L495.82 676.8M495.82 676.8L553.08 671.82M553.08 671.82L610.34 656.88M610.34 656.88L667.6 647.91" stroke="#56507e" stroke-width="1.25" fill="none"/><polygon points="381.3,672.82 377.77,679.45 384.83,679.45" fill="#3a3188"/><polygon points="438.56,672.82 435.03,679.45 442.09,679.45" fill="#3a3188"/><polygon points="495.82,672.82 492.29,679.45 499.35,679.45" fill="#3a3188"/><polygon points="553.08,667.84 549.55,674.47 556.61,674.47" fill="#3a3188"/><polygon points="610.34,652.89 606.81,659.53 613.87,659.53" fill="#3a3188"/><polygon points="667.6,643.93 664.07,650.56 671.13,650.56" fill="#3a3188"/>
<path d="M384.83 676.8L435.03 676.8M442.09 676.8L492.29 676.8M499.35 676.74L549.55 675.87M556.56 675.19L606.86 666.26M613.58 664.24L664.36 642.33" stroke="#e2a478" stroke-width="1.25" fill="none"/><polygon points="381.3,673 377.89,679.67 384.71,679.67" fill="none" stroke="#f2a25e" stroke-width="1"/><polygon points="438.56,673 435.15,679.67 441.97,679.67" fill="none" stroke="#f2a25e" stroke-width="1"/><polygon points="495.82,673 492.41,679.67 499.23,679.67" fill="none" stroke="#f2a25e" stroke-width="1"/><polygon points="553.08,672 549.67,678.67 556.49,678.67" fill="none" stroke="#f2a25e" stroke-width="1"/><polygon points="610.34,661.84 606.93,668.51 613.75,668.51" fill="none" stroke="#f2a25e" stroke-width="1"/><path d="M667.6 636.95V637.4M667.6 644.47V644.92M664.2 636.95H671M664.2 644.92H671" stroke="#e2a478" stroke-width="1.15" fill="none"/><polygon points="667.6,637.14 664.19,643.8 671.01,643.8" fill="none" stroke="#f2a25e" stroke-width="1"/>
<path d="M384.83 676.8L435.03 676.8M441.91 675.69L492.47 658.98M499.22 656.9L549.68 642.5M556.35 640.19L607.07 619.36M613.66 619.23L664.28 637.73" stroke="#986ea2" stroke-width="1.25" fill="none"/><circle cx="381.3" cy="676.8" r="3.48" fill="none" stroke="#9a4fa6" stroke-width="1"/><circle cx="438.56" cy="676.8" r="3.48" fill="none" stroke="#9a4fa6" stroke-width="1"/><circle cx="495.82" cy="657.87" r="3.48" fill="none" stroke="#9a4fa6" stroke-width="1"/><path d="M553.08 635.56V638M553.08 645.06V647.51M549.68 635.56H556.48M549.68 647.51H556.48" stroke="#986ea2" stroke-width="1.15" fill="none"/><circle cx="553.08" cy="641.53" r="3.48" fill="none" stroke="#9a4fa6" stroke-width="1"/><path d="M610.34 606.27V614.49M610.34 621.55V629.78M606.94 606.27H613.74M606.94 629.78H613.74" stroke="#986ea2" stroke-width="1.15" fill="none"/><circle cx="610.34" cy="618.02" r="3.48" fill="none" stroke="#9a4fa6" stroke-width="1"/><path d="M667.6 632.96V635.41M667.6 642.47V644.92M664.2 632.96H671M664.2 644.92H671" stroke="#986ea2" stroke-width="1.15" fill="none"/><circle cx="667.6" cy="638.94" r="3.48" fill="none" stroke="#9a4fa6" stroke-width="1"/>
<path d="M381.3 676.8L438.56 676.8M438.56 676.8L495.82 676.8M495.82 676.8L553.08 667.44M553.08 667.44L610.34 650.9M610.34 650.9L667.6 640.93" stroke="#4a947a" stroke-width="1.25" fill="none"/><circle cx="381.3" cy="676.8" r="3.64" fill="#17a04c"/><circle cx="438.56" cy="676.8" r="3.64" fill="#17a04c"/><circle cx="495.82" cy="676.8" r="3.64" fill="#17a04c"/><path d="M553.08 661.06V663.9M553.08 670.97V673.81M549.68 661.06H556.48M549.68 673.81H556.48" stroke="#4a947a" stroke-width="1.15" fill="none"/><circle cx="553.08" cy="667.44" r="3.64" fill="#17a04c"/><circle cx="610.34" cy="650.9" r="3.64" fill="#17a04c"/><circle cx="667.6" cy="640.93" r="3.64" fill="#17a04c"/>
</g>
</svg></body></html>
